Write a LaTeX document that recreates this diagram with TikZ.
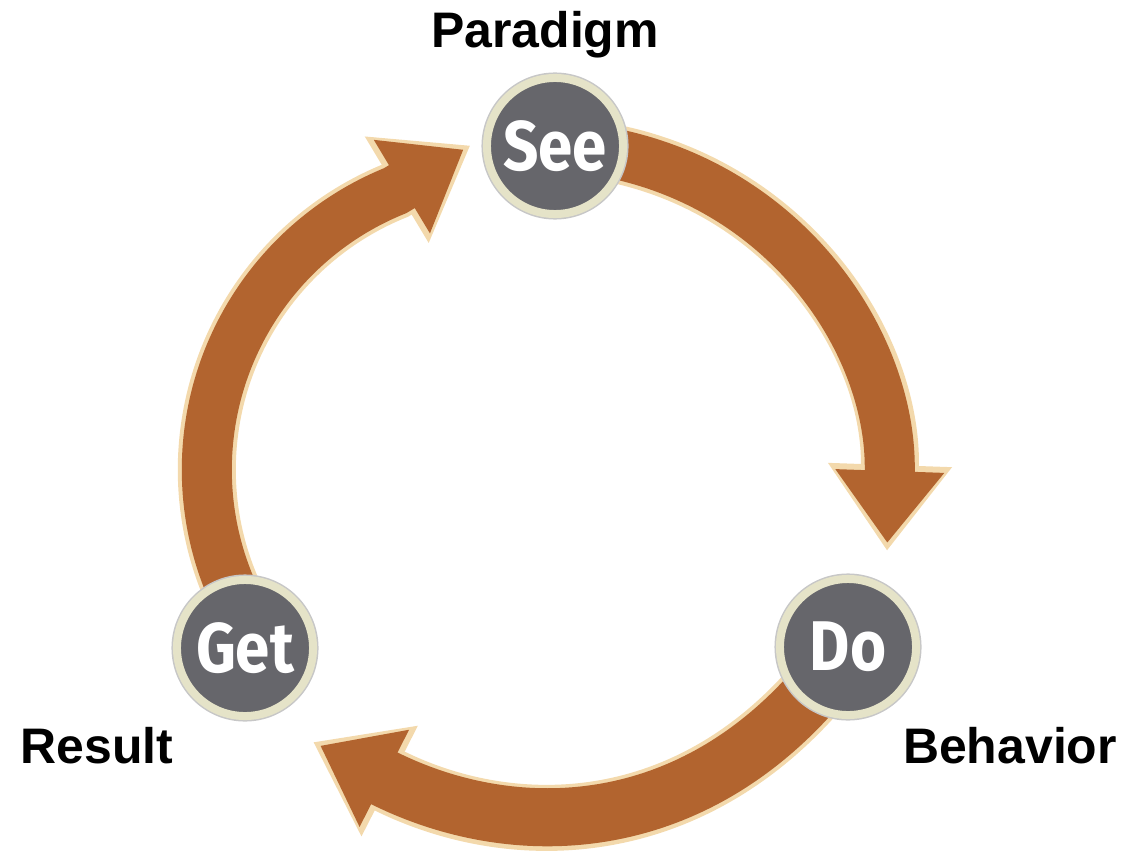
\documentclass[tikz,border=0pt]{standalone}
\usepackage{fontspec}
\setmainfont{Liberation Sans}
\newfontfamily\ringfont[FakeStretch=0.88]{Fira Sans}
\usetikzlibrary{arrows.meta,backgrounds}
\definecolor{cyclebrown}{HTML}{B2642F}
\definecolor{cycleedge}{HTML}{F3D9AC}
\definecolor{stagegray}{HTML}{66666B}
\definecolor{stagering}{HTML}{E5E3C8}

\begin{document}
\begin{tikzpicture}[x=0.01cm,y=0.01cm,
  stage/.style={circle,fill=stagegray,draw=stagering,line width=0.08cm,minimum size=1.36cm,
    inner sep=0pt,text=white,font=\ringfont\bfseries\fontsize{20}{20}\selectfont,
    preaction={draw=black!22,line width=0.11cm}},
  lbl/.style={font=\bfseries\fontsize{14.2}{16}\selectfont,anchor=base,inner sep=0pt},
  flow/.style={draw=cyclebrown,line width=#1,-{Triangle[length=0.72cm,width=1.04cm]},
    shorten >=0.08cm,
    preaction={draw=cycleedge,line width=#1+0.08cm,-{Triangle[length=0.86cm,width=1.18cm]},shorten >=0pt}},
  flow/.default=0.5cm]
  \useasboundingbox (0,0) rectangle (1143,863);
  \node[stage] (see) at (555,717) {See};
  \node[stage] (get) at (245,215) {Get};
  \node[stage] (do) at (848,216) {Do};
  \node[lbl] (paradigm) at (545,815) {Paradigm};
  \node[lbl] (result) at (97,100) {Result};
  \node[lbl] (behavior) at (1010,100) {Behavior};
  \coordinate (doTip) at (887,312);
  \coordinate (getTip) at (313,121);
  % arrows go under the circles
  \begin{scope}[on background layer]
    \draw[flow] (see.center) to[out=-3,in=88,looseness=1.05] (doTip);
    \draw[flow=0.58cm] (do.center) to[out=-125,in=-27,looseness=1.1] (getTip);
    \draw[flow] ([shift={(-10,51)}]get.center) arc[start angle=205,end angle=112,radius=301] -- ++(31:88);
  \end{scope}
\end{tikzpicture}
\end{document}
